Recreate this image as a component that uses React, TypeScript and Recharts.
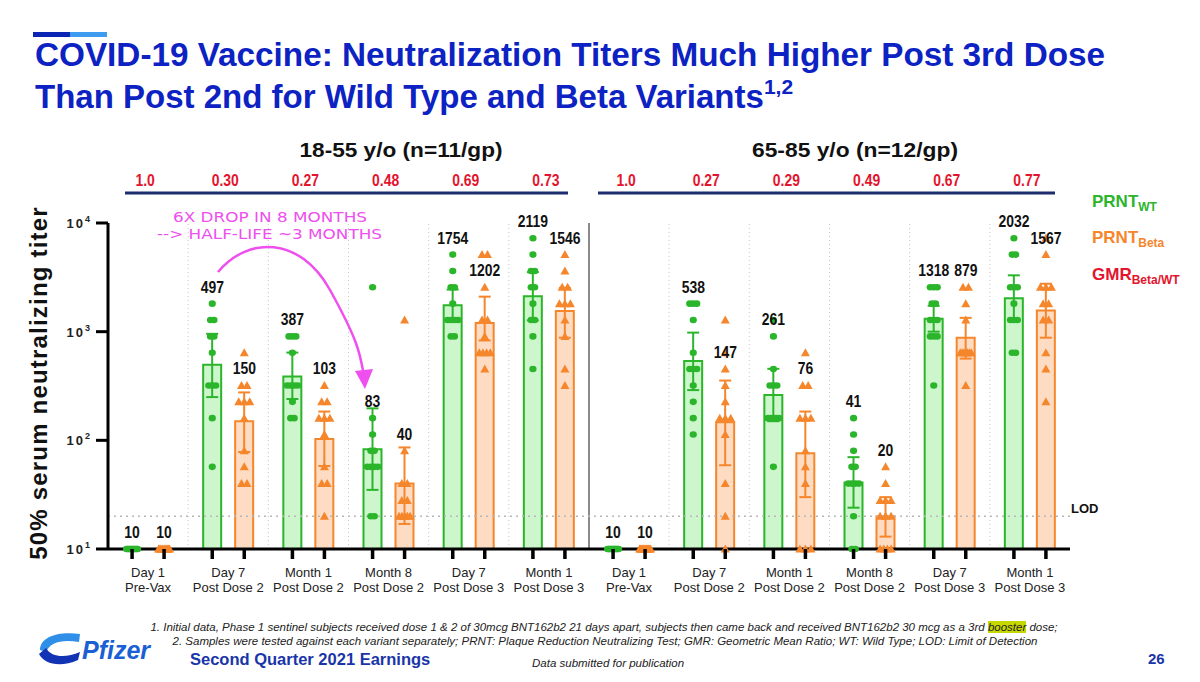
import React from "react";
import { ComposedChart, Bar, Scatter, XAxis, YAxis, ReferenceLine, ErrorBar } from "recharts";

// time points per age group (two text lines under each pair of bars)
const timepoints = [
  ["Day 1", "Pre-Vax"],
  ["Day 7", "Post Dose 2"],
  ["Month 1", "Post Dose 2"],
  ["Month 8", "Post Dose 2"],
  ["Day 7", "Post Dose 3"],
  ["Month 1", "Post Dose 3"],
];
const ageGroups = ["18-55 y/o (n=11/gp)", "65-85 y/o (n=12/gp)"];

// geometric mean titers
const gmtWT = [10, 497, 387, 83, 1754, 2119, 10, 538, 261, 41, 1318, 2032];
const gmtBeta = [10, 150, 103, 40, 1202, 1546, 10, 147, 76, 20, 879, 1567];
const gmrBetaWT = ["1.0", "0.30", "0.27", "0.48", "0.69", "0.73", "1.0", "0.27", "0.29", "0.49", "0.67", "0.77"];

// 95% CI [low, high]
const ciWT: ([number, number] | null)[] = [
  null, [250, 955], [240, 642], [35, 197], [1260, 2440], [1270, 3530],
  null, [290, 980], [150, 455], [24, 70], [1000, 1730], [1260, 3300],
];
const ciBeta: ([number, number] | null)[] = [
  null, [78, 276], [58, 184], [17, 86], [830, 2100], [880, 2530],
  null, [59, 355], [30, 184], [13, 30], [565, 1340], [880, 2760],
];

// individual subject titers
const pointsWT = [
  [10, 10, 10, 10, 10, 10, 10, 10, 10, 10, 10],
  [1810, 1280, 1280, 905, 905, 640, 320, 320, 320, 160, 57],
  [905, 905, 905, 640, 320, 320, 320, 320, 226, 160, 160],
  [2560, 160, 113, 80, 80, 57, 57, 57, 57, 20, 20],
  [5120, 3620, 2560, 2560, 1810, 1280, 1280, 1280, 1280, 905, 905],
  [7240, 5120, 3620, 3620, 2560, 2560, 1810, 1280, 1280, 905, 453],
  [10, 10, 10, 10, 10, 10, 10, 10, 10, 10, 10, 10],
  [1810, 1810, 1810, 1280, 640, 453, 453, 453, 320, 226, 160, 113],
  [1280, 905, 453, 320, 320, 320, 160, 160, 160, 160, 160, 57],
  [160, 113, 80, 57, 57, 40, 40, 40, 40, 20, 10, 10],
  [2560, 2560, 2560, 1810, 1810, 1280, 1280, 1280, 905, 905, 905, 320],
  [7240, 5120, 5120, 2560, 2560, 2560, 1810, 1280, 1280, 1280, 640, 640],
];
const pointsBeta = [
  [10, 10, 10, 10, 10, 10, 10, 10, 10, 10, 10],
  [640, 320, 320, 226, 226, 226, 160, 80, 57, 40, 40],
  [320, 226, 226, 160, 160, 160, 113, 57, 40, 40, 20],
  [1280, 80, 40, 40, 28, 28, 20, 20, 20, 20, 20],
  [5120, 5120, 2560, 1280, 1280, 905, 640, 640, 640, 640, 453],
  [5120, 3620, 2560, 2560, 1810, 1810, 1810, 1280, 905, 453, 320],
  [10, 10, 10, 10, 10, 10, 10, 10, 10, 10, 10, 10],
  [1280, 640, 453, 320, 226, 160, 160, 160, 113, 40, 20, 10],
  [640, 320, 320, 160, 160, 160, 80, 57, 40, 10, 10, 10],
  [57, 40, 28, 28, 28, 20, 20, 20, 10, 10, 10, 10],
  [2560, 2560, 1810, 1280, 640, 640, 640, 640, 640, 640, 640, 320],
  [7240, 5120, 2560, 2560, 2560, 1810, 1810, 1280, 1280, 640, 453, 226],
];

const yTicks = [10, 100, 1000, 10000];
const LOD = 20;

const SANS = "'Liberation Sans', Arial, Helvetica, sans-serif";
const GREEN = "#2bb52b";
const GREEN_FILL = "#cdf6cd";
const ORANGE = "#f5862b";
const ORANGE_FILL = "#fddcc3";
const RED = "#e3142d";
const NAVY = "#1c2c6e";
const BLUE = "#0d22c2";

const rows = gmtWT.map((wt, i) => ({
  id: `c${i}`,
  wt,
  beta: gmtBeta[i],
  wtErr: ciWT[i] ? [wt - ciWT[i]![0], ciWT[i]![1] - wt] : null,
  betaErr: ciBeta[i] ? [gmtBeta[i] - ciBeta[i]![0], ciBeta[i]![1] - gmtBeta[i]] : null,
}));

// spread identical values sideways so they do not hide each other
const SIDE = 16;
const spread = (lists: number[][], side: number, maxStep: number) => {
  const out: { x: number; y: number; dx: number }[] = [];
  lists.forEach((vals, i) => {
    const counts = new Map<number, number>();
    vals.forEach((v) => counts.set(v, (counts.get(v) || 0) + 1));
    const seen = new Map<number, number>();
    vals.forEach((v) => {
      const m = counts.get(v)!;
      const k = seen.get(v) || 0;
      seen.set(v, k + 1);
      const step = m > 1 ? Math.min(maxStep, 11 / (m - 1)) : 0;
      out.push({ x: i + 0.5, y: v, dx: side + (k - (m - 1) / 2) * step });
    });
  });
  return out;
};
const ptsWT = spread(pointsWT, -SIDE, 3.5);
const ptsBeta = spread(pointsBeta, SIDE, 5.5);

// value labels sit above the highest non-outlying subject
const anchor = (gmt: number, pts: number[]) => Math.max(...pts.filter((v) => v <= gmt * 4.25));
const labels = [
  ...gmtWT.map((g, i) => ({ x: i + 0.5, y: anchor(g, pointsWT[i]), dx: -SIDE, text: String(g) })),
  ...gmtBeta.map((g, i) => ({ x: i + 0.5, y: anchor(g, pointsBeta[i]), dx: SIDE, text: String(g) })),
];

const rowIndex = (id: string) => rows.findIndex((r) => r.id === id);

// bold, horizontally condensed text (the slide uses a narrow face)
const Narrow = ({ x, y, size, fill, children }: any) => (
  <text transform={`translate(${x},${y}) scale(0.82,1)`} textAnchor="middle" fontSize={size} fontWeight={700} fontFamily={SANS} fill={fill}>
    {children}
  </text>
);

const CatTick = (props: any) => {
  const { x, y, payload } = props;
  const i = rowIndex(payload.value);
  const [l1, l2] = timepoints[i % 6];
  return (
    <g>
      <line x1={x - SIDE} x2={x - SIDE} y1={y} y2={y + 10} stroke="#000" strokeWidth={3.5} />
      <line x1={x + SIDE} x2={x + SIDE} y1={y} y2={y + 10} stroke="#000" strokeWidth={3.5} />
      <text x={x} y={y + 28} textAnchor="middle" fontSize={13} fontFamily={SANS} fill="#222">{l1}</text>
      <text x={x} y={y + 43} textAnchor="middle" fontSize={13} fontFamily={SANS} fill="#222">{l2}</text>
      <Narrow x={x - 3} y={y - 363} size={17} fill={RED}>{gmrBetaWT[i]}</Narrow>
    </g>
  );
};

const YTick = (props: any) => {
  const { x, y, payload } = props;
  return (
    <text x={x - 2} y={y + 5} textAnchor="end" fontSize={13} fontWeight={700} fontFamily={SANS} fill="#222" letterSpacing={2}>
      10<tspan dy={-6} fontSize={9}>{Math.round(Math.log10(payload.value))}</tspan>
    </text>
  );
};

const Dot = (p: any) => <ellipse cx={p.cx + p.payload.dx} cy={p.cy} rx={3.6} ry={3.3} fill={GREEN} />;
const Tri = (p: any) => {
  const x = p.cx + p.payload.dx;
  const y = p.cy;
  return <polygon points={`${x},${y - 4.5} ${x - 4.5},${y + 3.5} ${x + 4.5},${y + 3.5}`} fill={ORANGE} />;
};
const ValueLabel = (p: any) => (
  <Narrow x={p.cx + p.payload.dx} y={p.cy - 11} size={17} fill="#111">{p.payload.text}</Narrow>
);

const boundaries = [1, 2, 3, 4, 5, 7, 8, 9, 10, 11];

const App = () => {
  return (
    <div style={{ position: "absolute", left: 0, top: 0, width: 1200, height: 682, background: "#fff", overflow: "hidden" }}>
      <div style={{ position: "absolute", left: 0, top: 0 }}>
        <ComposedChart width={1200} height={682} data={rows} margin={{ top: 223, right: 130, bottom: 83, left: 48 }} barGap={14} barCategoryGap={0}>
          <XAxis dataKey="id" interval={0} height={50} axisLine={{ stroke: "#000", strokeWidth: 3 }} tickLine={false} tickSize={0} tickMargin={0} tick={(p: any) => <CatTick {...p} />} />
          <XAxis xAxisId="pts" type="number" dataKey="x" domain={[0, 12]} hide />
          <YAxis scale="log" domain={[10, 10000]} ticks={yTicks} interval={0} width={60} axisLine={{ stroke: "#000", strokeWidth: 3 }} tickLine={{ stroke: "#000", strokeWidth: 3 }} tickSize={12} tick={(p: any) => <YTick {...p} />} />
          {boundaries.map((b) => (
            <ReferenceLine key={b} xAxisId="pts" x={b} stroke="#c8c8c8" strokeDasharray="1 3" />
          ))}
          <ReferenceLine xAxisId="pts" x={6} stroke="#8a8a8a" strokeWidth={2} />
          <ReferenceLine y={LOD} stroke="#b8b8b8" strokeDasharray="2 4" strokeWidth={1.5} />
          <Bar dataKey="wt" barSize={18} fill={GREEN_FILL} stroke={GREEN} strokeWidth={2} isAnimationActive={false}>
            <ErrorBar dataKey="wtErr" direction="y" width={6} stroke={GREEN} strokeWidth={2} />
          </Bar>
          <Bar dataKey="beta" barSize={18} fill={ORANGE_FILL} stroke={ORANGE} strokeWidth={2} isAnimationActive={false}>
            <ErrorBar dataKey="betaErr" direction="y" width={6} stroke={ORANGE} strokeWidth={2} />
          </Bar>
          <Scatter data={ptsWT} dataKey="y" xAxisId="pts" shape={Dot} isAnimationActive={false} />
          <Scatter data={ptsBeta} dataKey="y" xAxisId="pts" shape={Tri} isAnimationActive={false} />
          <Scatter data={labels} dataKey="y" xAxisId="pts" shape={ValueLabel} isAnimationActive={false} />
        </ComposedChart>
      </div>

      <svg width={1200} height={682} style={{ position: "absolute", left: 0, top: 0, pointerEvents: "none" }} fontFamily={SANS}>
        <rect x={33} y={32} width={37} height={5} fill="#0b26b4" />
        <rect x={70} y={32} width={37} height={5} fill="#3d9cf0" />
        <text x={35} y={66} fontSize={33} fontWeight={700} fill={BLUE} textLength={1070} lengthAdjust="spacingAndGlyphs">
          COVID-19 Vaccine: Neutralization Titers Much Higher Post 3rd Dose
        </text>
        <text x={35} y={108} fontSize={33} fontWeight={700} fill={BLUE}>
          Than Post 2nd for Wild Type and Beta Variants<tspan dy={-14} fontSize={21}>1,2</tspan>
        </text>

        <text x={401} y={157} fontSize={21} fontWeight={700} textAnchor="middle" fill="#111" textLength={203} lengthAdjust="spacingAndGlyphs">{ageGroups[0]}</text>
        <text x={855} y={157} fontSize={21} fontWeight={700} textAnchor="middle" fill="#111" textLength={206} lengthAdjust="spacingAndGlyphs">{ageGroups[1]}</text>
        <rect x={125} y={191.5} width={443} height={3} fill={NAVY} />
        <rect x={598} y={191.5} width={457} height={3} fill={NAVY} />

        <text x={1092} y={207} fontSize={17} fontWeight={700} fill={GREEN}>PRNT<tspan dy={4} fontSize={12}>WT</tspan></text>
        <text x={1092} y={243} fontSize={17} fontWeight={700} fill={ORANGE}>PRNT<tspan dy={4} fontSize={12}>Beta</tspan></text>
        <text x={1092} y={280} fontSize={17} fontWeight={700} fill={RED}>GMR<tspan dy={4} fontSize={12}>Beta/WT</tspan></text>
        <text x={1071} y={513} fontSize={13} fontWeight={700} fill="#111">LOD</text>

        <text transform="translate(47,383) rotate(-90)" textAnchor="middle" fontSize={24} fontWeight={700} letterSpacing={1.2} fill="#111">
          50% serum neutralizing titer
        </text>

        <g fill="#ee4fee" fontFamily="'DejaVu Sans', sans-serif" fontSize={14}>
          <text x={173} y={222} textLength={194} lengthAdjust="spacingAndGlyphs">6X DROP IN 8 MONTHS</text>
          <text x={157} y={239} textLength={225} lengthAdjust="spacingAndGlyphs">--&gt; HALF-LIFE ~3 MONTHS</text>
        </g>
        <path d="M 218 272 C 248 236, 300 236, 330 290 S 360 355, 364 376" fill="none" stroke="#ee4fee" strokeWidth={2.5} />
        <polygon points="355,371 373,369 365,389" fill="#ee4fee" />

        <text x={190} y={665} fontSize={16.5} fontWeight={700} fill="#1a35a8">Second Quarter 2021 Earnings</text>
        <text x={532} y={667} fontSize={11.5} fontStyle="italic" fill="#222">Data submitted for publication</text>
        <text x={1148} y={664} fontSize={15} fontWeight={700} fill="#1a35a8">26</text>

        <path d="M 40 650 C 40 637, 58 631, 80 634 L 79 642 C 62 639, 50 642, 46 652 Z" fill="#2f8ee8" />
        <path d="M 39 654 C 44 664, 60 668, 78 660 L 80 652 C 66 658, 52 658, 46 648 Z" fill="#1333b5" />
        <text x={82} y={659} fontSize={25} fontWeight={700} fontStyle="italic" fill="#1b5fd4">Pfizer</text>
      </svg>

      <div style={{ position: "absolute", left: 0, top: 620, width: 1208, textAlign: "center", fontFamily: SANS, fontSize: 11.5, lineHeight: "14px", fontStyle: "italic", color: "#222" }}>
        1. Initial data, Phase 1 sentinel subjects received dose 1 &amp; 2 of 30mcg BNT162b2 21 days apart, subjects then came back and received BNT162b2 30 mcg as a 3rd <span style={{ background: "#c6d800" }}>booster</span> dose;
      </div>
      <div style={{ position: "absolute", left: 0, top: 634, width: 1210, textAlign: "center", fontFamily: SANS, fontSize: 11.5, lineHeight: "14px", fontStyle: "italic", color: "#222" }}>
        2. Samples were tested against each variant separately; PRNT: Plaque Reduction Neutralizing Test; GMR: Geometric Mean Ratio; WT: Wild Type; LOD: Limit of Detection
      </div>
    </div>
  );
};

export default App;
